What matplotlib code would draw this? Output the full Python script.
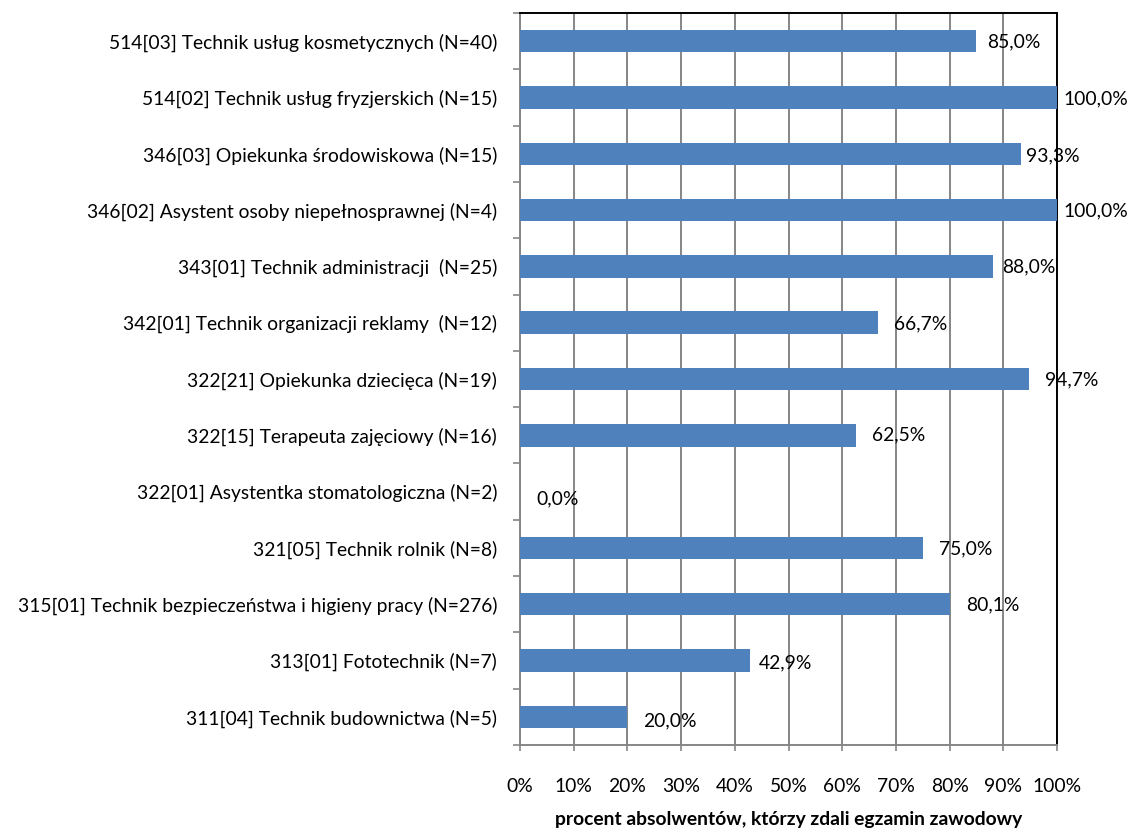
import matplotlib
matplotlib.use("Agg")
import matplotlib.pyplot as plt
from matplotlib.ticker import FixedLocator

plt.rcParams['font.family'] = ['Lato', 'DejaVu Sans']

categories = [
    "311[04] Technik budownictwa (N=5)",
    "313[01] Fototechnik (N=7)",
    "315[01] Technik bezpieczeństwa i higieny pracy (N=276)",
    "321[05] Technik rolnik (N=8)",
    "322[01] Asystentka stomatologiczna (N=2)",
    "322[15] Terapeuta zajęciowy (N=16)",
    "322[21] Opiekunka dziecięca (N=19)",
    "342[01] Technik organizacji reklamy  (N=12)",
    "343[01] Technik administracji  (N=25)",
    "346[02] Asystent osoby niepełnosprawnej (N=4)",
    "346[03] Opiekunka środowiskowa (N=15)",
    "514[02] Technik usług fryzjerskich (N=15)",
    "514[03] Technik usług kosmetycznych (N=40)",
]
values = [20.0, 42.9, 80.1, 75.0, 0.0, 62.5, 94.7, 66.7, 88.0, 100.0, 93.3, 100.0, 85.0]
value_labels = ["20,0%", "42,9%", "80,1%", "75,0%", "0,0%", "62,5%", "94,7%",
                "66,7%", "88,0%", "100,0%", "93,3%", "100,0%", "85,0%"]
xtick_values = [0, 10, 20, 30, 40, 50, 60, 70, 80, 90, 100]
xtick_labels = ["0%", "10%", "20%", "30%", "40%", "50%", "60%", "70%", "80%", "90%", "100%"]
xlabel = "procent absolwentów, którzy zdali egzamin zawodowy"

# label nudges (pixels) to mimic the reference placement
label_dx = [16, 8, 16, 16, 16, 16, 16, 16, 10, 6, 5, 6, 11]
label_dy = [-4, -2, -1, -1, -7, 0, -1, -1, 0, -1, -2, -1, -1]

FS = 13.9
W, H = 1129, 832
fig = plt.figure(figsize=(W / 100, H / 100), dpi=100)
ax_left, ax_right, ax_top, ax_bottom = 520, 1057, 13, 745
ax = fig.add_axes([ax_left / W, 1 - ax_bottom / H, (ax_right - ax_left) / W, (ax_bottom - ax_top) / H])

ypos = list(range(len(categories)))
ax.barh(ypos, values, height=0.4, color="#4F81BD", zorder=3)

ax.set_xlim(0, 100)
ax.set_ylim(-0.5, len(categories) - 0.5)

ax.set_xticks(xtick_values)
ax.set_xticklabels(xtick_labels)
ax.grid(axis="x", color="#868686", linewidth=1.4, zorder=0)
ax.set_axisbelow(True)

ax.set_yticks(ypos)
ax.set_yticklabels(categories)
ax.yaxis.set_minor_locator(FixedLocator([i - 0.5 for i in range(len(categories) + 1)]))
ax.tick_params(axis="y", which="major", length=0, pad=16.5, labelsize=FS)
ax.tick_params(axis="y", which="minor", length=5, width=1.2, color="#868686", direction="out")
ax.tick_params(axis="x", which="major", length=4, width=1.2, color="#868686",
               direction="out", pad=20, labelsize=FS)

for sp in ["left", "bottom"]:
    ax.spines[sp].set_color("#868686")
    ax.spines[sp].set_linewidth(1.4)
for sp in ["top", "right"]:
    ax.spines[sp].set_color("black")
    ax.spines[sp].set_linewidth(1.4)

for y, v, lab, dx, dy in zip(ypos, values, value_labels, label_dx, label_dy):
    ax.annotate(lab, xy=(v, y), xytext=(dx * 0.72, dy * 0.72), textcoords="offset points",
                ha="left", va="center", fontsize=FS, color="black", zorder=4,
                annotation_clip=False)

ax.set_xlabel(xlabel, fontsize=FS, fontweight="bold")
ax.xaxis.label.set_va("center")
ax.xaxis.set_label_coords(0.5, (ax_bottom - 819) / (ax_bottom - ax_top))

fig.savefig("out.png", dpi=100)
